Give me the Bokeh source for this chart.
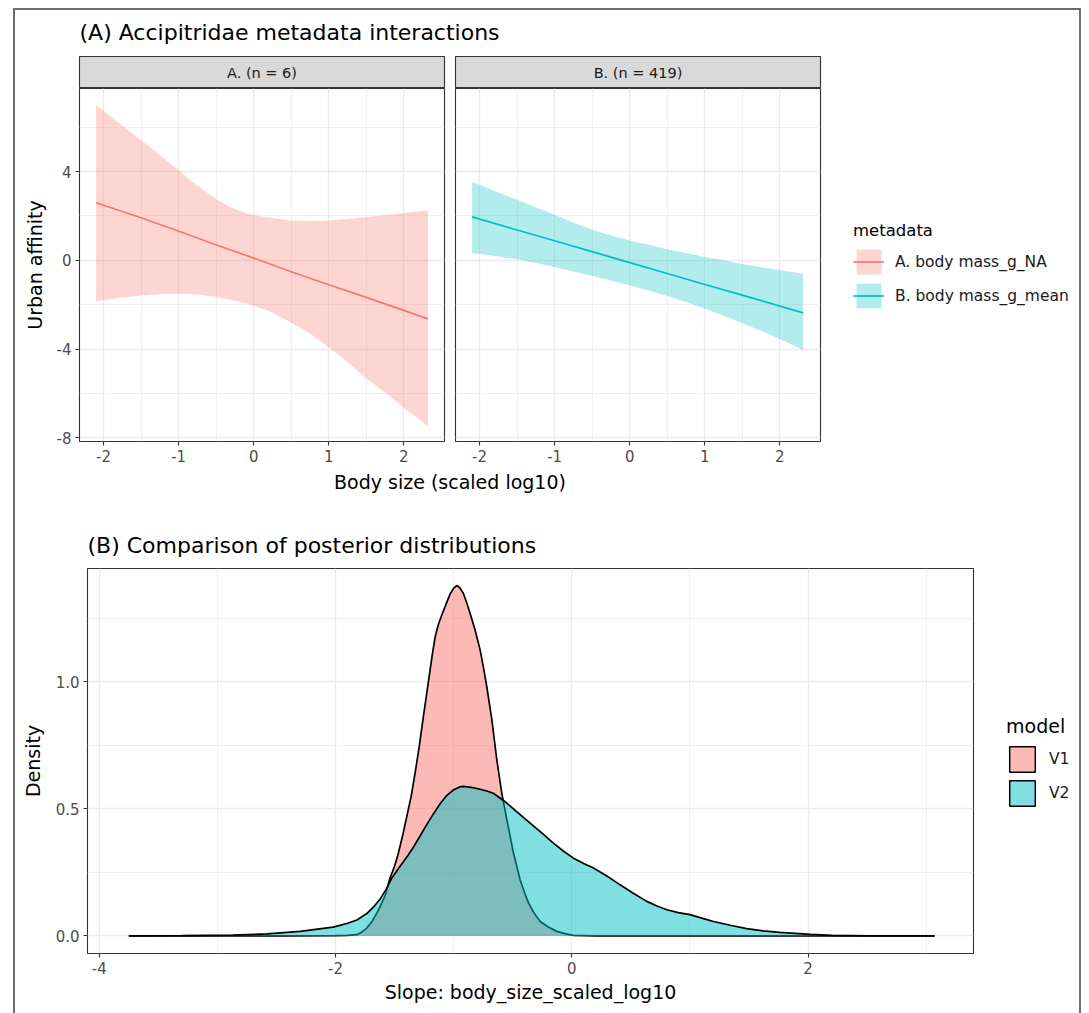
from bokeh.plotting import figure
from bokeh.layouts import column, row
from bokeh.models import (Range1d, FixedTicker, Label, Legend, LegendItem,
                          PrintfTickFormatter, Grid)
from bokeh.embed import file_html
from bokeh.resources import INLINE

FONT = "DejaVu Sans"
RED = "#F8766D"
TEAL = "#00BFC4"

# ---------------- data: panel (A) ----------------
facet_labels = ["A. (n = 6)", "B. (n = 419)"]
legend_a_labels = ["A. body mass_g_NA", "B. body mass_g_mean"]

# facet A: fitted line and credible band
x_a_fit = [-2.1, -1.51, -0.978, -0.488, 0.0, 0.489, 1.0, 1.51, 1.95, 2.32]
fit_a = [2.6, 1.93, 1.29, 0.68, 0.1, -0.5, -1.1, -1.68, -2.2, -2.64]
x_a_up = [-2.1, -1.8, -1.5, -1.2, -0.978, -0.8, -0.6, -0.488, -0.3, -0.1, 0.0,
          0.2, 0.489, 0.75, 1.0, 1.25, 1.51, 1.8, 2.05, 2.32]
upper_a = [7.02, 6.22, 5.42, 4.62, 4.01, 3.5, 3.0, 2.73, 2.38, 2.12, 2.05,
           1.93, 1.80, 1.78, 1.80, 1.86, 1.95, 2.06, 2.16, 2.25]
lower_a = [-1.84, -1.7, -1.58, -1.52, -1.51, -1.53, -1.6, -1.66, -1.78, -1.95, -2.04,
           -2.28, -2.79, -3.3, -3.92, -4.6, -5.35, -6.1, -6.8, -7.47]

# facet B
x_b_fit = [-2.1, -1.5, -0.99, -0.48, 0.0, 0.49, 1.0, 1.51, 2.31]
fit_b = [1.96, 1.37, 0.87, 0.37, -0.10, -0.58, -1.09, -1.58, -2.37]
x_b_band = [-2.1, -1.8, -1.5, -1.25, -0.99, -0.75, -0.48, -0.25, 0.0, 0.25,
            0.49, 0.75, 1.0, 1.25, 1.51, 1.8, 2.05, 2.31]
upper_b = [3.54, 3.13, 2.73, 2.39, 2.04, 1.7, 1.36, 1.12, 0.90, 0.70,
           0.50, 0.33, 0.15, 0.0, -0.18, -0.33, -0.47, -0.60]
lower_b = [0.33, 0.2, 0.05, -0.12, -0.31, -0.5, -0.72, -0.91, -1.13, -1.36,
           -1.6, -1.88, -2.18, -2.5, -2.85, -3.25, -3.63, -4.04]

top_x_ticks = [-2, -1, 0, 1, 2]
top_x_minor = [-1.5, -0.5, 0.5, 1.5]
top_y_ticks = [-8, -4, 0, 4]
top_y_minor = [-6, -2, 2, 6]

# ---------------- data: panel (B) ----------------
model_labels = ["V1", "V2"]
v1_x = [-3.75, -2.4, -2.0, -1.9, -1.82, -1.78, -1.736, -1.69, -1.651, -1.623,
        -1.58, -1.539, -1.5, -1.468, -1.43, -1.397, -1.36, -1.327, -1.29, -1.257,
        -1.2, -1.18, -1.157, -1.13, -1.1, -1.065, -1.03, -1.0, -0.975, -0.95,
        -0.918, -0.89, -0.861, -0.819, -0.776, -0.75, -0.72, -0.677, -0.635, -0.593,
        -0.55, -0.494, -0.438, -0.4, -0.367, -0.32, -0.268, -0.2, -0.127, -0.05,
        0.014, 0.2, 0.6, 1.5, 3.07]
v1_y = [0, 0, 0.001, 0.002, 0.005, 0.015, 0.031, 0.058, 0.09, 0.115,
        0.16, 0.228, 0.275, 0.326, 0.4, 0.47, 0.55, 0.64, 0.75, 0.862,
        1.045, 1.11, 1.176, 1.225, 1.263, 1.305, 1.345, 1.368, 1.378, 1.37,
        1.347, 1.31, 1.268, 1.203, 1.124, 1.06, 0.98, 0.85, 0.692, 0.561,
        0.457, 0.326, 0.221, 0.17, 0.13, 0.09, 0.057, 0.035, 0.018, 0.008,
        0.002, 0.0005, 0, 0, 0]
v2_x = [-3.75, -3.3, -2.87, -2.58, -2.3, -2.02, -1.905, -1.82, -1.736, -1.68,
        -1.623, -1.57, -1.524, -1.46, -1.397, -1.34, -1.285, -1.23, -1.172, -1.115,
        -1.058, -1.0, -0.95, -0.918, -0.85, -0.776, -0.72, -0.664, -0.565, -0.46,
        -0.353, -0.25, -0.156, -0.07, 0.014, 0.1, 0.183, 0.3, 0.409, 0.52,
        0.635, 0.72, 0.804, 0.9, 1.0, 1.1, 1.2, 1.35, 1.48, 1.62,
        1.76, 2.02, 2.2, 2.5, 3.07]
v2_y = [0, 0.001, 0.003, 0.008, 0.018, 0.035, 0.049, 0.063, 0.088, 0.113,
        0.145, 0.185, 0.228, 0.27, 0.31, 0.35, 0.393, 0.437, 0.48, 0.52,
        0.553, 0.575, 0.586, 0.588, 0.584, 0.577, 0.57, 0.561, 0.528, 0.486,
        0.444, 0.403, 0.365, 0.333, 0.306, 0.285, 0.267, 0.235, 0.201, 0.168,
        0.136, 0.118, 0.103, 0.092, 0.084, 0.07, 0.057, 0.041, 0.029, 0.02,
        0.014, 0.006, 0.002, 0.0005, 0]

bot_x_ticks = [-4, -2, 0, 2]
bot_x_minor = [-3, -1, 1, 3]
bot_y_ticks = [0, 0.5, 1.0]
bot_y_minor = [0.25, 0.75, 1.25]

COMMON = dict(toolbar_location=None, output_backend="svg", frame_align=False)
TICK_SIZE = "15px"


def style_grid(g):
    g.grid_line_color = "#EBEBEB"
    g.grid_line_width = 1.3
    g.minor_grid_line_color = "#EBEBEB"
    g.minor_grid_line_width = 0.8


def style_axis(ax, size):
    ax.axis_line_color = None
    ax.major_tick_line_color = "#333333"
    ax.major_tick_line_width = 1.1
    ax.major_tick_out = 4
    ax.major_tick_in = 0
    ax.minor_tick_line_color = None
    ax.major_label_text_color = "#4D4D4D"
    ax.major_label_text_font = FONT
    ax.major_label_text_font_size = size
    ax.major_label_standoff = 4
    ax.axis_label_text_font = FONT
    ax.axis_label_text_font_size = "19px"
    ax.axis_label_text_font_style = "normal"
    ax.axis_label_text_color = "#000000"


def text_fig(width, height):
    return figure(width=width, height=height, x_range=Range1d(0, width),
                  y_range=Range1d(height, 0), min_border=0, x_axis_type=None,
                  y_axis_type=None, outline_line_color=None, **COMMON)


def strip(width, mbl, mbr, text):
    s = figure(width=width, height=33, x_range=Range1d(0, 1), y_range=Range1d(0, 1),
               min_border_left=mbl, min_border_right=mbr, min_border_top=1,
               min_border_bottom=0, x_axis_type=None, y_axis_type=None,
               background_fill_color="#D9D9D9", outline_line_color="#333333",
               outline_line_width=1.1, **COMMON)
    s.add_layout(Label(x=0.5, y=0.5, text=text, text_align="center",
                       text_baseline="middle", text_font=FONT,
                       text_font_size="14.5px", text_color="#1A1A1A"))
    return s


def legend_fig(width, height):
    return figure(width=width, height=height, x_range=Range1d(0, 1),
                  y_range=Range1d(0, 1), min_border=0, x_axis_type=None,
                  y_axis_type=None, outline_line_color=None, **COMMON)


def legend_style(title, title_size, glyph, spacing, location):
    return dict(title=title, location=location, glyph_width=glyph, glyph_height=glyph,
                spacing=spacing, padding=0, margin=0, border_line_color=None,
                background_fill_alpha=0, label_standoff=11, label_text_font=FONT,
                label_text_font_size="15.5px", label_text_color="#1A1A1A",
                title_text_font=FONT, title_text_font_size=title_size,
                title_text_font_style="normal", title_text_color="#000000",
                title_standoff=6, inactive_fill_alpha=0)


TOP_XR = (-2.321, 2.541)
TOP_YR = (-8.17, 7.75)

# ---- title (A)
t1 = text_fig(1064, 45)
t1.add_layout(Label(x=64, y=22, text="(A) Accipitridae metadata interactions",
                    text_baseline="middle", text_font=FONT, text_font_size="22px",
                    text_color="#000000"))


def facet(width, mbl, mbr, show_y):
    f = figure(width=width, height=380, x_range=Range1d(*TOP_XR), y_range=Range1d(*TOP_YR),
               min_border_left=mbl, min_border_right=mbr, min_border_top=0,
               min_border_bottom=27, outline_line_color="#333333",
               outline_line_width=1.1, y_axis_type=("linear" if show_y else None),
               **COMMON)
    xt = FixedTicker(ticks=top_x_ticks, minor_ticks=top_x_minor)
    yt = FixedTicker(ticks=top_y_ticks, minor_ticks=top_y_minor)
    f.xaxis.ticker = xt
    f.xgrid.ticker = xt
    f.xaxis.formatter = PrintfTickFormatter(format="%d")
    style_grid(f.xgrid[0])
    style_axis(f.xaxis[0], TICK_SIZE)
    if show_y:
        f.yaxis.ticker = yt
        f.ygrid.ticker = yt
        f.yaxis.formatter = PrintfTickFormatter(format="%d")
        style_grid(f.ygrid[0])
        style_axis(f.yaxis[0], TICK_SIZE)
    else:
        gy = Grid(dimension=1, ticker=yt)
        style_grid(gy)
        f.add_layout(gy)
    return f


sa = strip(434, 64, 5, facet_labels[0])
fa = facet(434, 64, 5, True)
fa.yaxis.axis_label = "Urban affinity"
fa.yaxis.axis_label_standoff = 8
fa.varea(x=x_a_up, y1=lower_a, y2=upper_a, fill_color=RED, fill_alpha=0.3)
fa.line(x_a_fit, fit_a, line_color=RED, line_width=1.7)

sb = strip(376, 6, 5, facet_labels[1])
fb = facet(376, 6, 5, False)
fb.varea(x=x_b_band, y1=lower_b, y2=upper_b, fill_color=TEAL, fill_alpha=0.3)
fb.line(x_b_fit, fit_b, line_color=TEAL, line_width=1.7)

# ---- legend (A): keys drawn from hidden copies of the two series
la = legend_fig(254, 413)
la_a1 = la.varea(x=x_a_up, y1=lower_a, y2=upper_a, fill_color=RED, fill_alpha=0.3, visible=False)
la_a2 = la.line(x_a_fit, fit_a, line_color=RED, line_width=1.7, visible=False)
la_b1 = la.varea(x=x_b_band, y1=lower_b, y2=upper_b, fill_color=TEAL, fill_alpha=0.3, visible=False)
la_b2 = la.line(x_b_fit, fit_b, line_color=TEAL, line_width=1.7, visible=False)
leg_a = Legend(items=[LegendItem(label=legend_a_labels[0], renderers=[la_a1, la_a2]),
                      LegendItem(label=legend_a_labels[1], renderers=[la_b1, la_b2])],
               **legend_style("metadata", "16.5px", 31, 3, (28, 157)))
la.add_layout(leg_a, "center")

# ---- x label (A) and title (B)
tx = text_fig(1064, 90)
tx.add_layout(Label(x=434.5, y=13, text="Body size (scaled log10)", text_align="center",
                    text_baseline="middle", text_font=FONT, text_font_size="19px",
                    text_color="#000000"))
tx.add_layout(Label(x=72, y=77, text="(B) Comparison of posterior distributions",
                    text_baseline="middle", text_font=FONT, text_font_size="22px",
                    text_color="#000000"))

# ---- densities
fc = figure(width=963, height=455, x_range=Range1d(-4.10, 3.40),
            y_range=Range1d(-0.069, 1.445), min_border_left=72, min_border_right=5,
            min_border_top=10, min_border_bottom=60, outline_line_color="#333333",
            outline_line_width=1.1, **COMMON)
xt3 = FixedTicker(ticks=bot_x_ticks, minor_ticks=bot_x_minor)
yt3 = FixedTicker(ticks=bot_y_ticks, minor_ticks=bot_y_minor)
fc.xaxis.ticker = xt3
fc.yaxis.ticker = yt3
fc.xgrid.ticker = xt3
fc.ygrid.ticker = yt3
fc.xaxis.formatter = PrintfTickFormatter(format="%d")
fc.yaxis.formatter = PrintfTickFormatter(format="%.1f")
style_grid(fc.xgrid[0]); style_grid(fc.ygrid[0])
style_axis(fc.xaxis[0], TICK_SIZE); style_axis(fc.yaxis[0], TICK_SIZE)
fc.xaxis.axis_label = "Slope: body_size_scaled_log10"
fc.yaxis.axis_label = "Density"
fc.xaxis.axis_label_standoff = 4
fc.yaxis.axis_label_standoff = 9
fc.varea(x=v1_x, y1=0, y2=v1_y, fill_color=RED, fill_alpha=0.5)
fc.line(v1_x, v1_y, line_color="#000000", line_width=1.7)
fc.varea(x=v2_x, y1=0, y2=v2_y, fill_color=TEAL, fill_alpha=0.5)
fc.line(v2_x, v2_y, line_color="#000000", line_width=1.7)

# ---- legend (B)
lb = legend_fig(101, 455)
k1 = lb.patch(v1_x, v1_y, fill_color=RED, fill_alpha=0.5, line_color="#000000",
              line_width=1.5, visible=False)
k2 = lb.patch(v2_x, v2_y, fill_color=TEAL, fill_alpha=0.5, line_color="#000000",
              line_width=1.5, visible=False)
leg_b = Legend(items=[LegendItem(label=model_labels[0], renderers=[k1]),
                      LegendItem(label=model_labels[1], renderers=[k2])],
               **legend_style("model", "19px", 32, 2, (28, 204)))
lb.add_layout(leg_b, "center")

top_row = row(column(sa, fa), column(sb, fb), la)
bottom_row = row(fc, lb)
root = column(t1, top_row, tx, bottom_row, margin=(10, 0, 0, 15),
              styles={"outline": "2px solid #6e6e6e"})

open("out.html", "w").write(file_html(root, INLINE))
